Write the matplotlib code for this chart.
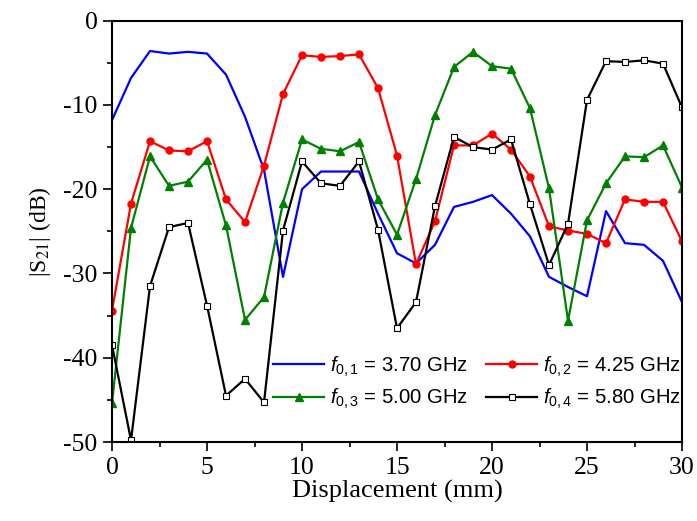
import numpy as np
import matplotlib
matplotlib.use("Agg")
import matplotlib.pyplot as plt
from matplotlib.ticker import MultipleLocator

displacement = np.arange(0, 31)

s21_f1 = [-11.8, -6.8, -3.6, -3.9, -3.7, -3.9, -6.4, -11.4, -17.7, -30.4,
          -20.0, -17.9, -17.9, -17.9, -22.9, -27.6, -28.8, -26.6, -22.1, -21.5,
          -20.7, -22.9, -25.6, -30.4, -31.6, -32.7, -22.6, -26.4, -26.6, -28.5,
          -33.4]
s21_f2 = [-34.4, -21.7, -14.3, -15.4, -15.5, -14.3, -21.2, -23.9, -17.2, -8.7,
          -4.1, -4.3, -4.2, -4.0, -8.0, -16.0, -28.9, -23.8, -14.8, -14.8,
          -13.4, -15.3, -18.5, -24.4, -24.9, -25.3, -26.4, -21.2, -21.5, -21.5,
          -26.2]
s21_f3 = [-45.4, -24.6, -16.1, -19.6, -19.1, -16.5, -24.3, -35.5, -32.8, -21.6,
          -14.1, -15.2, -15.5, -14.4, -21.2, -25.4, -18.8, -11.2, -5.5, -3.7,
          -5.4, -5.7, -10.4, -19.9, -35.6, -23.7, -19.3, -16.1, -16.2, -14.8,
          -19.8]
s21_f4 = [-38.5, -49.8, -31.5, -24.5, -24.0, -33.8, -44.5, -42.5, -45.3, -24.9,
          -16.7, -19.3, -19.6, -16.7, -24.8, -36.5, -33.4, -22.0, -13.8, -15.0,
          -15.3, -14.1, -21.8, -29.0, -24.1, -9.4, -4.8, -4.9, -4.7, -5.1,
          -10.3]

labels = ["$f_{0,1}$ = 3.70 GHz", "$f_{0,2}$ = 4.25 GHz",
          "$f_{0,3}$ = 5.00 GHz", "$f_{0,4}$ = 5.80 GHz"]

plt.rcParams["font.family"] = ["Liberation Serif", "DejaVu Serif"]
plt.rcParams["axes.unicode_minus"] = False
plt.rcParams["mathtext.fontset"] = "custom"
plt.rcParams["mathtext.rm"] = "Liberation Sans"
plt.rcParams["mathtext.it"] = "Liberation Sans:italic"

fig = plt.figure(figsize=(6.97, 5.21), dpi=100)
ax = fig.add_axes([0.1607, 0.1516, 0.8178, 0.8087])

l1, = ax.plot(displacement, s21_f1, color="blue", lw=1.6, label=labels[0])
l2, = ax.plot(displacement, s21_f2, color="red", lw=1.6, marker="o", ms=5,
              label=labels[1])
l3, = ax.plot(displacement, s21_f3, color="green", lw=1.6, marker="^", ms=5.5,
              label=labels[2])
l4, = ax.plot(displacement, s21_f4, color="black", lw=1.6, marker="s", ms=5,
              mfc="white", mec="black", mew=0.8, label=labels[3])

ax.set_xlim(0, 30)
ax.set_ylim(-50, 0)
ax.xaxis.set_major_locator(MultipleLocator(5))
ax.xaxis.set_minor_locator(MultipleLocator(2.5))
ax.yaxis.set_major_locator(MultipleLocator(10))
ax.yaxis.set_minor_locator(MultipleLocator(5))
ax.tick_params(which="both", direction="out", top=False, right=False,
               labelsize=18.5, width=1.2)
ax.tick_params(which="major", length=6.5, pad=4)
ax.tick_params(which="minor", length=3.5)
for sp in ax.spines.values():
    sp.set_linewidth(1.5)

ax.set_xlabel("Displacement (mm)", fontsize=19, labelpad=1)
ax.set_ylabel("|S$_{21}$| (dB)", fontsize=17, labelpad=7, math_fontfamily="stix")

# row-wise order in a 2-column legend
ax.legend([l1, l3, l2, l4], [labels[0], labels[2], labels[1], labels[3]],
          ncol=2, loc="lower right", bbox_to_anchor=(1.03, 0.03),
          frameon=False, numpoints=1, handlelength=2.5,
          columnspacing=0.9, handletextpad=0.3, labelspacing=0.4,
          prop={"family": "Liberation Sans", "size": 14.6})

fig.savefig("out.png", dpi=100)
